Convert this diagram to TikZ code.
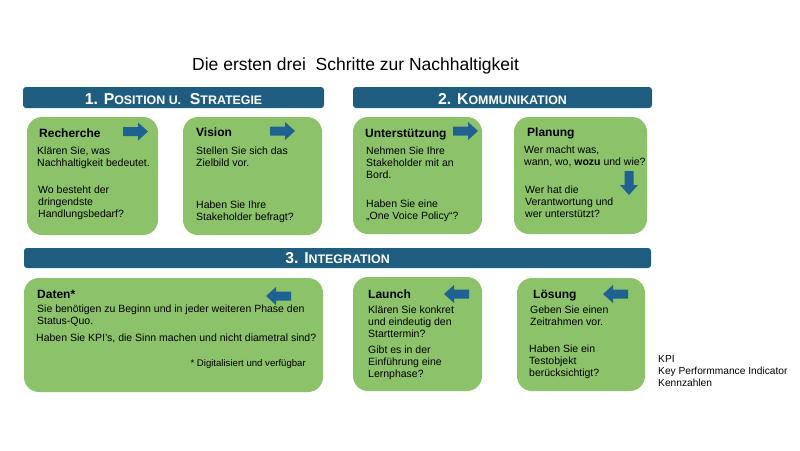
\documentclass[tikz,border=0pt]{standalone}
\usepackage{fontspec}
\setmainfont{Liberation Sans}
\definecolor{barblue}{HTML}{1F5D80}
\definecolor{cardgreen}{HTML}{8CC269}
\definecolor{arrblue}{HTML}{1F6190}
\newcommand{\mypb}[1]{\parbox[t]{320pt}{\raggedright #1}}
\newcommand{\smc}[1]{{\fontsize{12.4}{14}\selectfont #1}}
\begin{document}
\begin{tikzpicture}[x=1pt,y=-1pt,
  bar/.style={fill=barblue, rounded corners=3pt},
  card/.style={fill=cardgreen, rounded corners=15pt},
  txt/.style={anchor=base west, inner sep=0pt, font=\fontsize{10.5}{12.3}\selectfont},
  head/.style={anchor=base west, inner sep=0pt, font=\bfseries\fontsize{12}{14}\selectfont},
  bartxt/.style={anchor=base, inner sep=0pt, text=white, font=\bfseries\fontsize{15.8}{18}\selectfont},
  rarrow/.pic={\fill[arrblue] (0,-4.5)--(15,-4.5)--(15,-9)--(25,0)--(15,9)--(15,4.5)--(0,4.5)--cycle;},
  larrow/.pic={\fill[arrblue] (25,-4.5)--(10,-4.5)--(10,-9)--(0,0)--(10,9)--(10,4.5)--(25,4.5)--cycle;},
  darrow/.pic={\fill[arrblue] (-4.5,0)--(-4.5,14)--(-9,14)--(0,24)--(9,14)--(4.5,14)--(4.5,0)--cycle;}
]
\useasboundingbox (0,0) rectangle (800,450);
\fill[white] (0,0) rectangle (800,450);

% title
\node[anchor=base west, inner sep=0pt, font=\fontsize{17.5}{20}\selectfont] (title) at (192,70) {Die ersten drei\ \ Schritte zur Nachhaltigkeit};

% bars
\fill[bar] (23,87) rectangle (324,108);
\fill[bar] (353,87) rectangle (652,108);
\fill[bar] (24,248) rectangle (651,268);
\node[bartxt] (bar1) at (173.5,104) {1. P\smc{OSITION U.}\ \ S\smc{TRATEGIE}};
\node[bartxt] (bar2) at (502.5,104) {2. K\smc{OMMUNIKATION}};
\node[bartxt] (bar3) at (337.5,263.5) {3. I\smc{NTEGRATION}};

% cards row 1
\fill[card] (27,117) rectangle (158,235);
\fill[card] (183,117) rectangle (322,235);
\fill[card] (353,117) rectangle (482,234);
\fill[card] (514,117) rectangle (647,234);
% cards row 2
\fill[card] (24,278) rectangle (323,392);
\fill[card] (353,277) rectangle (482,391);
\fill[card] (517,278) rectangle (645,391);

% arrows
\pic at (123,131.5) {rarrow};
\pic at (270,131) {rarrow};
\pic at (453,131) {rarrow};
\pic at (629,171) {darrow};
\pic at (266,296) {larrow};
\pic at (444,294) {larrow};
\pic at (603,294) {larrow};

% Recherche
\node[head] (h1) at (39,137) {Recherche};
\node[txt] (t1a) at (37,154) {\mypb{Klären Sie, was\\Nachhaltigkeit bedeutet.}};
\node[txt] (t1b) at (38,193) {\mypb{Wo besteht der\\dringendste\\Handlungsbedarf?}};
% Vision
\node[head] (h2) at (196,136) {Vision};
\node[txt] (t2a) at (196,154) {\mypb{Stellen Sie sich das\\Zielbild vor.}};
\node[txt] (t2b) at (196,208) {\mypb{Haben Sie Ihre\\Stakeholder befragt?}};
% Unterstuetzung
\node[head] (h3) at (365,137) {Unterstützung};
\node[txt] (t3a) at (366,154) {\mypb{Nehmen Sie Ihre\\Stakeholder mit an\\Bord.}};
\node[txt] (t3b) at (366,207) {\mypb{Haben Sie eine\\„One Voice Policy“?}};
% Planung
\node[head] (h4) at (527,136) {Planung};
\node[txt] (t4a) at (524,153) {\mypb{Wer macht was,\\wann, wo, \textbf{wozu} und wie?}};
\node[txt] (t4b) at (525,193) {\mypb{Wer hat die\\Verantwortung und\\wer unterstützt?}};
% Daten
\node[head] (h5) at (37,298) {Daten*};
\node[txt] (t5a) at (37,312) {\mypb{Sie benötigen zu Beginn und in jeder weiteren Phase den\\Status-Quo.}};
\node[txt] (t5b) at (36,341) {Haben Sie KPI's, die Sinn machen und nicht diametral sind?};
\node[anchor=base east, inner sep=0pt, font=\fontsize{9.6}{11}\selectfont] (t5c) at (306,366) {* Digitalisiert und verfügbar};
% Launch
\node[head] (h6) at (368,298) {Launch};
\node[txt] (t6a) at (368,313) {\mypb{Klären Sie konkret\\und eindeutig den\\Starttermin?}};
\node[txt] (t6b) at (368,353) {\mypb{Gibt es in der\\Einführung eine\\Lernphase?}};
% Loesung
\node[head] (h7) at (533,298) {Lösung};
\node[txt] (t7a) at (530,313) {\mypb{Geben Sie einen\\Zeitrahmen vor.}};
\node[txt] (t7b) at (529,352) {\mypb{Haben Sie ein\\Testobjekt\\berücksichtigt?}};
% KPI legend
\node[anchor=base west, inner sep=0pt, font=\fontsize{10.2}{12}\selectfont] (kpi) at (658,362) {\mypb{KPI\\Key Performmance Indicator\\Kennzahlen}};
\end{tikzpicture}
\end{document}
